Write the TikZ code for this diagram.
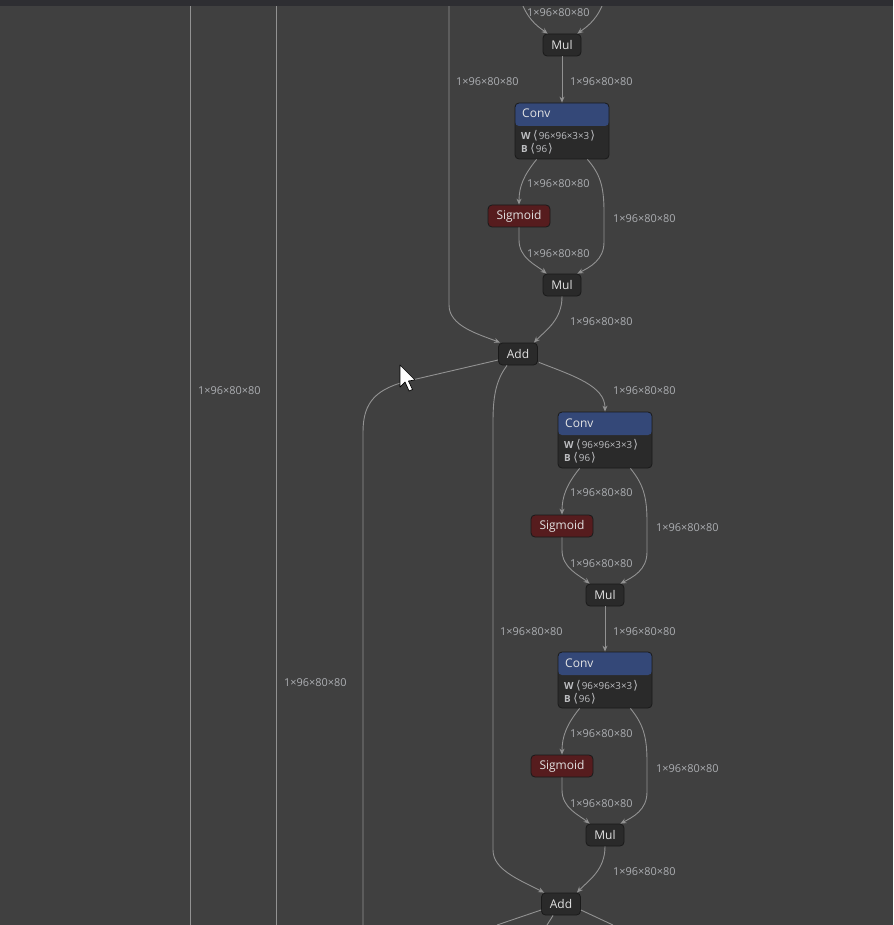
\documentclass[tikz,border=0pt]{standalone}
\usepackage{fontspec}
\setmainfont{Open Sans}
\newfontfamily\symfont{DejaVu Sans}
\usetikzlibrary{calc,arrows.meta}
\definecolor{bgc}{RGB}{64,64,64}
\definecolor{barc}{RGB}{46,46,50}
\definecolor{nodefill}{RGB}{42,42,42}
\definecolor{nodeline}{RGB}{26,26,26}
\definecolor{convblue}{RGB}{52,72,120}
\definecolor{sigred}{RGB}{86,28,30}
\definecolor{edgec}{RGB}{146,146,146}
\definecolor{lblc}{RGB}{172,174,178}
\definecolor{txtc}{RGB}{226,226,226}
\tikzset{
  opbox/.style={draw=nodeline, fill=nodefill, rounded corners=4pt, line width=0.8pt,
    minimum height=22pt, inner sep=0pt, text=txtc, font=\fontsize{12}{12}\selectfont},
  sigbox/.style={opbox, fill=sigred, minimum width=62pt},
  convbox/.style={draw=nodeline, fill=nodefill, rounded corners=4pt, line width=0.8pt,
    minimum width=94pt, minimum height=56pt, inner sep=0pt,
    path picture={\fill[convblue] (path picture bounding box.north west) rectangle
      ([yshift=-23pt]path picture bounding box.north east);}},
  convtitle/.style={anchor=west, inner sep=0pt, text=txtc, font=\fontsize{12}{12}\selectfont},
  convattr/.style={anchor=west, inner sep=0pt, text=lblc!80!white, font=\fontsize{9.8}{9.8}\selectfont},
  edgelbl/.style={anchor=west, inner sep=0pt, text=lblc, font=\fontsize{10.9}{10.9}\selectfont},
  edge/.style={draw=edgec, line width=0.9pt, -{Stealth[length=6pt,width=5pt,inset=2pt]}},
  wire/.style={draw=edgec, line width=0.9pt},
}
\newcommand{\lbr}{\hspace{2.5pt}{\symfont\fontsize{12}{12}\selectfont⟨}\hspace{1pt}}
\newcommand{\rbr}{\hspace{1pt}{\symfont\fontsize{12}{12}\selectfont⟩}}
\newcommand{\attrW}{\textbf{W}\lbr 96×96×3×3\rbr}
\newcommand{\attrB}{\textbf{B}\lbr 96\rbr}
\begin{document}
\begin{tikzpicture}[x=1pt,y=-1pt]
\fill[bgc] (0,0) rectangle (893,925);
\useasboundingbox (0,0) rectangle (893,925);

% nodes
\node[opbox, minimum width=38pt] (mul1) at (562,45) {Mul};
\node[convbox] (conv1) at (562,131) {};
\node[convtitle] (conv1t) at (522,113.5) {Conv};
\node[convattr] (conv1w) at (521,135.5) {\attrW};
\node[convattr] (conv1b) at (521,148.5) {\attrB};
\node[sigbox] (sig1) at (519,216) {Sigmoid};
\node[opbox, minimum width=38pt] (mul2) at (562,285) {Mul};
\node[opbox, minimum width=39pt] (add1) at (518,354) {Add};
\node[convbox] (conv2) at (605,440) {};
\node[convtitle] (conv2t) at (565,423.5) {Conv};
\node[convattr] (conv2w) at (564,444.5) {\attrW};
\node[convattr] (conv2b) at (564,457.5) {\attrB};
\node[sigbox] (sig2) at (562,526) {Sigmoid};
\node[opbox, minimum width=38pt] (mul3) at (605,595) {Mul};
\node[convbox] (conv3) at (605,680) {};
\node[convtitle] (conv3t) at (565,663.5) {Conv};
\node[convattr] (conv3w) at (564,685.5) {\attrW};
\node[convattr] (conv3b) at (564,698.5) {\attrB};
\node[sigbox] (sig3) at (562,766) {Sigmoid};
\node[opbox, minimum width=38pt] (mul4) at (605,835) {Mul};
\node[opbox, minimum width=39pt] (add2) at (561,904) {Add};

% free ends
\coordinate (v190t) at (190,6); \coordinate (v190b) at (190,925);
\coordinate (v276t) at (276,6); \coordinate (v276b) at (276,925);
\coordinate (v449t) at (449,6);
\coordinate (inL) at (523,6);
\coordinate (inR) at (602,6);
\coordinate (v363b) at (363,925);
\coordinate (outL) at (497,925);
\coordinate (outM) at (547,925);
\coordinate (outR) at (613,925);

% edges
\draw[wire] (v190t) -- (v190b);
\draw[wire] (v276t) -- (v276b);
\draw[edge] (inL) .. controls (530,22) and (540,28) .. ($(mul1.north west)+(5,0)$);
\draw[edge] (inR) .. controls (595,22) and (585,28) .. ($(mul1.north east)+(-4,0)$);
\draw[edge] (v449t) -- (449,305) .. controls (449,326) and (478,334) .. ($(add1.north west)+(2,0)$);
\draw[edge] (mul1) -- (conv1);
\draw[edge] ($(conv1.south west)+(22,0)$) .. controls (524,175) and (519,186) .. (sig1.north);
\draw[edge] ($(conv1.south east)+(-22,0)$) .. controls (600,174) and (604,186) .. (604,212) -- (604,242) .. controls (604,260) and (590,267) .. ($(mul2.north east)+(-4,0)$);
\draw[edge] (sig1.south) -- (519,240) .. controls (519,258) and (536,265) .. ($(mul2.north west)+(4,0)$);
\draw[edge] (mul2.south) .. controls (562,320) and (546,330) .. ($(add1.north east)+(-4,0)$);
\draw[edge] ($(add1.south east)+(1,-3)$) .. controls (574,376) and (605,386) .. (conv2.north);
\draw[edge] ($(add1.south west)+(9,0)$) .. controls (496,380) and (493,396) .. (493,422) -- (493,850) .. controls (493,870) and (520,880) .. ($(add2.north west)+(3,0)$);
\draw[wire] ($(add1.west)+(0,6)$) -- (412,380) .. controls (376,388) and (363,402) .. (363,432) -- (v363b);
\draw[edge] ($(conv2.south west)+(22,0)$) .. controls (567,484) and (562,496) .. (sig2.north);
\draw[edge] ($(conv2.south east)+(-22,0)$) .. controls (643,484) and (647,496) .. (647,522) -- (647,552) .. controls (647,570) and (633,577) .. ($(mul3.north east)+(-4,0)$);
\draw[edge] (sig2.south) -- (562,550) .. controls (562,568) and (579,575) .. ($(mul3.north west)+(4,0)$);
\draw[edge] (mul3) -- (conv3);
\draw[edge] ($(conv3.south west)+(22,0)$) .. controls (567,724) and (562,736) .. (sig3.north);
\draw[edge] ($(conv3.south east)+(-22,0)$) .. controls (643,724) and (647,736) .. (647,762) -- (647,792) .. controls (647,810) and (633,817) .. ($(mul4.north east)+(-4,0)$);
\draw[edge] (sig3.south) -- (562,790) .. controls (562,808) and (579,815) .. ($(mul4.north west)+(4,0)$);
\draw[edge] (mul4.south) .. controls (605,870) and (589,880) .. ($(add2.north east)+(-4,0)$);
\draw[wire] ($(add2.west)+(0,6)$) -- (outL);
\draw[wire] ($(add2.south west)+(12,0)$) -- (outM);
\draw[wire] ($(add2.east)+(0,6)$) -- (outR);

% edge labels
\node[edgelbl] (l01) at (527,13) {1×96×80×80};
\node[edgelbl] (l02) at (456,82) {1×96×80×80};
\node[edgelbl] (l03) at (570,82) {1×96×80×80};
\node[edgelbl] (l04) at (527,184) {1×96×80×80};
\node[edgelbl] (l05) at (613,219) {1×96×80×80};
\node[edgelbl] (l06) at (527,254) {1×96×80×80};
\node[edgelbl] (l07) at (570,322) {1×96×80×80};
\node[edgelbl] (l08) at (198,391) {1×96×80×80};
\node[edgelbl] (l09) at (613,391) {1×96×80×80};
\node[edgelbl] (l10) at (570,493) {1×96×80×80};
\node[edgelbl] (l11) at (656,528) {1×96×80×80};
\node[edgelbl] (l12) at (570,564) {1×96×80×80};
\node[edgelbl] (l13) at (500,632) {1×96×80×80};
\node[edgelbl] (l14) at (613,632) {1×96×80×80};
\node[edgelbl] (l15) at (284,683) {1×96×80×80};
\node[edgelbl] (l16) at (570,734) {1×96×80×80};
\node[edgelbl] (l17) at (656,769) {1×96×80×80};
\node[edgelbl] (l18) at (570,804) {1×96×80×80};
\node[edgelbl] (l19) at (613,872) {1×96×80×80};

% mouse pointer
\filldraw[fill=white, draw=black, line width=0.7pt, line join=round]
  (400,365) -- (400,387) -- (405,382) -- (409,391) -- (412.5,389.5) -- (408.5,381) -- (415,380) -- cycle;

% top bar
\fill[barc] (0,0) rectangle (893,6);
\end{tikzpicture}
\end{document}
